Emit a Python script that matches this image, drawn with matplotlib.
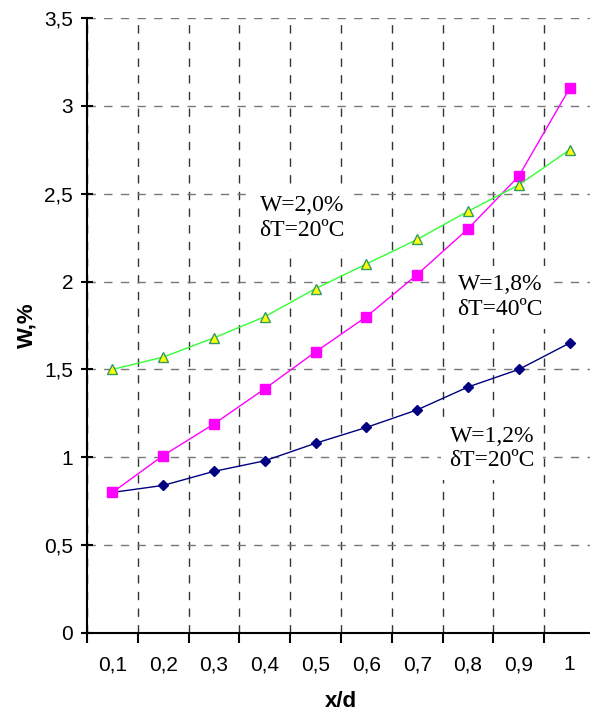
import matplotlib
matplotlib.use("Agg")
import matplotlib.pyplot as plt
import numpy as np

categories = ["0,1", "0,2", "0,3", "0,4", "0,5", "0,6", "0,7", "0,8", "0,9", "1"]
w12_dt20 = [0.80, 0.84, 0.92, 0.98, 1.08, 1.17, 1.27, 1.40, 1.50, 1.65]
w18_dt40 = [0.80, 1.01, 1.19, 1.39, 1.60, 1.80, 2.04, 2.30, 2.60, 3.10]
w20_dt20 = [1.50, 1.57, 1.68, 1.80, 1.96, 2.10, 2.24, 2.40, 2.55, 2.75]
y_ticks = [0, 0.5, 1, 1.5, 2, 2.5, 3, 3.5]
y_tick_labels = ["0", "0,5", "1", "1,5", "2", "2,5", "3", "3,5"]

fig = plt.figure(figsize=(5.90, 7.13), dpi=100)
ax = fig.add_axes([87/590, 1-633/713, 508/590, 615/713])

x = np.arange(1, len(categories) + 1)

ax.plot(x, w12_dt20, color="#000080", lw=1, marker="D", ms=5.5,
        mfc="#000080", mec="#000080", zorder=4)
ax.plot(x, w18_dt40, color="#FF00FF", lw=1, marker="s", ms=7.5,
        mfc="#FF00FF", mec="#FF00FF", zorder=4)
ax.plot(x, w20_dt20, color="#33FF33", lw=1, marker="^", ms=7.5,
        mfc="#FFFF00", mec="#339966", mew=1, zorder=4)

ax.set_xlim(0.5, len(categories) + 0.5)
ax.set_ylim(0, 3.5)

ax.set_xticks(np.arange(0.5, len(categories) + 0.5, 1.0))
ax.set_xticklabels([])
ax.set_xticks(x, minor=True)
ax.set_xticklabels(categories, minor=True)
ax.tick_params(axis="x", which="major", direction="out", length=7, width=1.5, color="black")
ax.tick_params(axis="x", which="minor", length=0, pad=16, labelsize=15)

ax.set_yticks(y_ticks)
ax.set_yticklabels(y_tick_labels)
ax.tick_params(axis="y", direction="inout", length=8, width=1.5, labelsize=15, pad=6)

for t in ax.get_xticklabels(minor=True) + ax.get_yticklabels():
    t.set_fontfamily(["Liberation Sans", "DejaVu Sans"])

ax.xaxis.grid(True, which="major", color="#333333", linestyle=(0, (6, 6)), lw=1)
ax.yaxis.grid(True, color="#777777", linestyle=(0, (6, 6)), lw=1)
ax.set_axisbelow(True)

ax.spines["top"].set_visible(False)
ax.spines["right"].set_visible(False)
ax.spines["left"].set_linewidth(1.5)
ax.spines["bottom"].set_linewidth(1.5)

ax.set_xlabel("x/d", fontsize=16, fontweight="bold", family=["Liberation Sans", "DejaVu Sans"], labelpad=12)
ax.set_ylabel("W,%", fontsize=16, fontweight="bold", family=["Liberation Sans", "DejaVu Sans"], labelpad=5)

box = dict(facecolor="white", edgecolor="none", pad=6)
tfont = dict(fontsize=17, family=["Liberation Serif", "DejaVu Serif"], ha="center", va="center",
             linespacing=1.25, zorder=3, bbox=box)
ax.text(4.73, 2.36, "W=2,0%\nδT=20ºC", **tfont)
ax.text(8.63, 1.91, "W=1,8%\nδT=40ºC", **tfont)
ax.text(8.47, 1.05, "W=1,2%\nδT=20ºC", **tfont)

fig.savefig("out.png", dpi=100)
